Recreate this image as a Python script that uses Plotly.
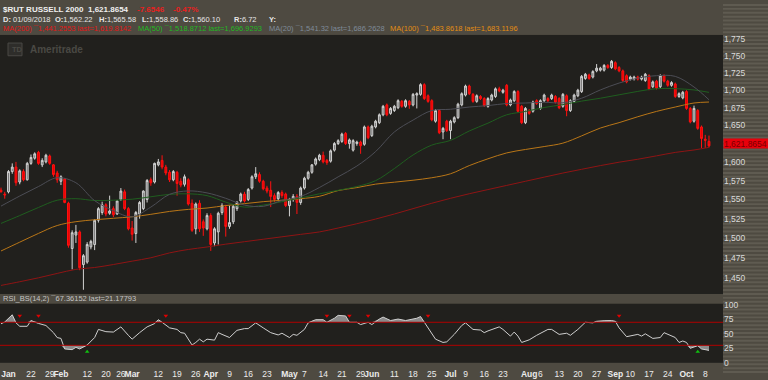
import pandas as pd
import plotly.graph_objects as go

# ---------------- data ----------------
holidays = ["2018-01-15", "2018-02-19", "2018-03-30", "2018-05-28", "2018-07-04", "2018-09-03"]
dates = [d.strftime("%Y-%m-%d") for d in pd.bdate_range("2018-01-09", "2018-10-09")
         if d.strftime("%Y-%m-%d") not in holidays]

opens = [1562.2, 1557, 1560, 1587, 1593, 1573, 1587, 1576, 1598, 1605,
         1613, 1596, 1600, 1608, 1596, 1585, 1574, 1577, 1545, 1487,
         1504, 1508, 1467, 1470, 1489, 1492, 1523, 1533, 1543, 1532,
         1538, 1531, 1550, 1560, 1538, 1513, 1506, 1531, 1538, 1550,
         1576, 1573, 1596, 1602, 1593, 1586, 1576, 1586, 1574, 1570,
         1576, 1545, 1512, 1545, 1521, 1512, 1529, 1494, 1508, 1533,
         1540, 1515, 1521, 1538, 1548, 1557, 1550, 1565, 1580, 1583,
         1574, 1565, 1562, 1555, 1551, 1559, 1557, 1542, 1550, 1554,
         1546, 1565, 1578, 1586, 1597, 1603, 1609, 1602, 1601, 1616,
         1625, 1628, 1639, 1625, 1616, 1625, 1627, 1624, 1648, 1636,
         1648, 1654, 1665, 1679, 1667, 1671, 1675, 1684, 1677, 1684,
         1679, 1693, 1694, 1708, 1692, 1685, 1656, 1671, 1641, 1656,
         1643, 1655, 1661, 1679, 1693, 1706, 1694, 1684, 1691, 1688,
         1677, 1686, 1691, 1702, 1697, 1707, 1679, 1685, 1698, 1677,
         1654, 1671, 1670, 1685, 1674, 1685, 1688, 1688, 1691, 1688,
         1677, 1692, 1671, 1684, 1692, 1698, 1717, 1722, 1719, 1728,
         1729, 1729, 1736, 1733, 1740, 1733, 1728, 1721, 1716, 1716,
         1719, 1716, 1714, 1721, 1705, 1713, 1705, 1721, 1713, 1707,
         1709, 1691, 1689, 1698, 1674, 1656, 1671, 1648, 1631, 1628]
highs = [1565.6, 1560, 1589, 1598, 1600, 1590, 1590, 1600, 1610, 1613,
         1615, 1605, 1611, 1610, 1597, 1588, 1582, 1578, 1547, 1510,
         1517, 1510, 1480, 1495, 1498, 1524, 1540, 1547, 1545, 1555,
         1541, 1549, 1565, 1563, 1540, 1522, 1535, 1548, 1562, 1577,
         1579, 1599, 1604, 1609, 1596, 1589, 1589, 1588, 1578, 1583,
         1578, 1550, 1546, 1549, 1524, 1532, 1532, 1514, 1534, 1545,
         1543, 1542, 1544, 1548, 1559, 1560, 1565, 1582, 1593, 1586,
         1576, 1568, 1574, 1558, 1561, 1562, 1559, 1552, 1557, 1557,
         1567, 1580, 1588, 1597, 1606, 1611, 1614, 1604, 1617, 1627,
         1631, 1640, 1641, 1632, 1631, 1629, 1629, 1650, 1650, 1651,
         1658, 1667, 1679, 1681, 1676, 1679, 1687, 1686, 1687, 1686,
         1696, 1697, 1710, 1710, 1694, 1687, 1673, 1673, 1648, 1658,
         1658, 1663, 1682, 1697, 1708, 1708, 1696, 1694, 1693, 1690,
         1690, 1695, 1704, 1705, 1702, 1709, 1688, 1700, 1700, 1679,
         1676, 1673, 1685, 1687, 1687, 1695, 1690, 1695, 1693, 1690,
         1696, 1694, 1687, 1695, 1702, 1722, 1725, 1724, 1729, 1738,
         1734, 1738, 1738, 1744, 1742, 1735, 1730, 1723, 1721, 1721,
         1721, 1721, 1725, 1723, 1714, 1715, 1723, 1723, 1715, 1713,
         1711, 1697, 1699, 1700, 1676, 1678, 1673, 1650, 1637, 1636]
lows = [1558.9, 1551, 1558, 1584, 1568, 1570, 1574, 1575, 1596, 1603,
        1596, 1593, 1598, 1596, 1580, 1572, 1569, 1545, 1488, 1461,
        1494, 1460, 1436, 1468, 1486, 1485, 1520, 1530, 1528, 1530,
        1527, 1530, 1548, 1536, 1510, 1497, 1494, 1525, 1536, 1546,
        1568, 1571, 1594, 1590, 1582, 1573, 1574, 1555, 1566, 1567,
        1542, 1508, 1505, 1508, 1503, 1510, 1484, 1490, 1492, 1530,
        1502, 1512, 1518, 1535, 1546, 1546, 1548, 1563, 1577, 1572,
        1562, 1558, 1540, 1547, 1549, 1552, 1540, 1528, 1547, 1531,
        1543, 1563, 1576, 1584, 1595, 1601, 1598, 1596, 1599, 1614,
        1623, 1626, 1623, 1618, 1614, 1622, 1611, 1622, 1631, 1634,
        1646, 1652, 1663, 1663, 1665, 1669, 1673, 1675, 1675, 1673.5,
        1677, 1674, 1692, 1686, 1682, 1656, 1654, 1638, 1631, 1641,
        1631, 1653, 1659, 1677, 1691, 1693, 1682, 1682, 1686, 1676,
        1675, 1684, 1689, 1697, 1695, 1677, 1677, 1683, 1668, 1652,
        1652, 1665, 1668, 1679, 1672, 1683, 1683, 1686, 1681, 1673,
        1675, 1663, 1669, 1682, 1690, 1696, 1715, 1715, 1717, 1726,
        1727, 1727, 1731, 1731, 1729, 1726, 1712, 1710, 1714, 1714,
        1714, 1714, 1712, 1700, 1703, 1701, 1703, 1711, 1705, 1705,
        1689, 1689, 1687, 1672, 1653, 1654, 1644, 1619, 1619, 1619.6]
closes = [1560.1, 1556, 1587, 1593, 1572, 1588, 1576, 1598, 1606, 1611,
          1598, 1602, 1609, 1598, 1583, 1576, 1580, 1546, 1491, 1507,
          1508, 1463, 1478, 1492, 1496, 1523, 1538, 1543, 1531, 1535,
          1530, 1548, 1561, 1538, 1512, 1505, 1533, 1546, 1561, 1575,
          1572, 1598, 1600, 1593, 1585, 1576, 1587, 1571, 1569, 1580,
          1544, 1510, 1544, 1512, 1513, 1529, 1492, 1512, 1532, 1542,
          1515, 1520, 1541, 1546, 1557, 1548, 1563, 1580, 1584, 1574,
          1564, 1561, 1554, 1550, 1559, 1555, 1542, 1550, 1554, 1546,
          1565, 1578, 1586, 1596, 1604, 1609, 1600, 1599, 1615, 1625,
          1629, 1638, 1625, 1630, 1629, 1627, 1622, 1648, 1633, 1649,
          1656, 1665, 1677, 1665, 1674, 1677, 1685, 1677, 1685, 1679,
          1694, 1695, 1708, 1688, 1684, 1658, 1671, 1640, 1646, 1643,
          1656, 1661, 1680, 1695, 1706, 1695, 1684, 1692, 1688, 1678,
          1688, 1693, 1702, 1699, 1700, 1679, 1686, 1698, 1670, 1654,
          1674, 1667, 1683, 1681, 1685, 1693, 1685, 1693, 1683, 1675,
          1694, 1671, 1685, 1693, 1700, 1720, 1723, 1717, 1727, 1732,
          1732, 1736, 1733, 1742, 1731, 1728, 1714, 1712, 1719, 1719,
          1716, 1719, 1723, 1702, 1712, 1703, 1721, 1713, 1707, 1711,
          1691, 1695, 1697, 1674, 1655, 1674, 1646, 1632, 1629.5, 1621.87]

# moving averages, read at every 5th session
ma_day = [0, 5, 10, 15, 20, 25, 30, 35, 40, 45, 50, 55, 60, 65, 70, 75, 80, 85, 90, 95,
          100, 105, 110, 115, 120, 125, 130, 135, 140, 145, 150, 155, 160, 165, 170, 175,
          180, 185, 189]
ma20 = [1541.3, 1554.5, 1567, 1578.7, 1572, 1548.4, 1535.4, 1527.4, 1540, 1556.7,
        1561.2, 1558.6, 1551.5, 1542.6, 1541, 1548.6, 1554, 1565.7, 1579.9, 1594.4,
        1614, 1641, 1657.6, 1671, 1672.8, 1676, 1678, 1681, 1681.7, 1682.7,
        1682, 1688.5, 1700.4, 1710.3, 1717.4, 1721, 1720, 1704.6, 1686.3]
ma50 = [1518.9, 1529, 1539.5, 1549, 1551, 1548.6, 1549, 1550.3, 1553.5, 1556.7,
        1557.4, 1555, 1546.5, 1540, 1542.6, 1547, 1552, 1557.4, 1562, 1567,
        1574.8, 1591, 1609.4, 1622.9, 1629.4, 1642.4, 1653.3, 1665, 1669.7, 1675.3,
        1679.4, 1684.4, 1688.5, 1693.4, 1698.3, 1702.2, 1702.2, 1700.4, 1696.9]
ma100 = [1483.9, 1495, 1506.1, 1516.2, 1521.1, 1523.6, 1525.5, 1527.4, 1530.6, 1534.4,
         1537, 1538.8, 1542, 1544.5, 1547.1, 1549, 1551, 1554.1, 1561.7, 1565.6,
         1570.2, 1572.8, 1575.4, 1578.7, 1584, 1595, 1604.2, 1612.2, 1616.9, 1620.9,
         1625.6, 1635.6, 1646.5, 1654, 1662.3, 1669.8, 1676, 1681.7, 1683.1]
ma200 = [1441.3, 1445.8, 1450.6, 1456, 1461, 1463.3, 1467, 1471.2, 1475.4, 1481.5,
         1485.8, 1488.9, 1492.5, 1495.6, 1498.7, 1501.8, 1504.9, 1508, 1513, 1518.5,
         1524.5, 1531, 1538, 1545, 1551.5, 1557.5, 1563, 1568.5, 1574, 1579.5,
         1585, 1590, 1595, 1599.6, 1603.6, 1608.2, 1612.9, 1616.2, 1619.8]

rsi_day = [0, 1, 3, 4, 5, 7, 8, 10, 12, 14, 15, 16, 17, 19, 20, 21, 23, 25, 26, 28,
           30, 32, 34, 35, 37, 39, 41, 42, 43, 45, 47, 48, 49, 51, 52, 53, 54, 55, 57, 58,
           59, 61, 63, 65, 66, 68, 70, 72, 74, 75, 77, 78, 79, 81, 82, 84, 86, 87, 89, 90,
           92, 93, 95, 96, 98, 99, 101, 102, 104, 106, 108, 110, 111, 112, 113, 115, 116, 118, 119, 121,
           123, 124, 126, 128, 129, 130, 132, 133, 134, 136, 137, 138, 139, 141, 143, 144, 146, 147, 149, 151,
           152, 154, 155, 156, 158, 159, 161, 163, 164, 165, 167, 169, 170, 171, 172, 174, 176, 177, 179, 180,
           181, 182, 183, 184, 186, 187, 189]
rsi_val = [67.4, 70.5, 83, 69, 63, 63, 73, 68, 64.4, 52, 43.4, 42, 23.7, 22.5, 26.5, 23.7, 30.5, 43.5, 57.6, 53.7,
           53, 62, 47.4, 40.7, 52, 62, 67.7, 74.5, 70, 60.3, 57.6, 52, 51, 30.5, 35, 40.7, 36, 40.7, 39, 52,
           49, 43.5, 56, 59, 59, 69, 60.3, 52, 48, 51, 43.5, 49, 47.4, 57.6, 69, 74.5, 74.5, 70, 77, 82,
           81, 70, 70, 66, 70, 66, 75.6, 79, 73, 75.6, 73, 75.6, 77, 80, 70, 49, 40.7, 35, 36, 49,
           64.4, 69, 57.6, 56.5, 52, 55, 60.3, 62, 57.6, 46, 53, 46, 35, 39.5, 47.4, 51, 57.6, 57.6, 49, 51,
           47.4, 57.6, 63, 70, 69, 71.7, 72.8, 73, 71.7, 60.3, 45, 47.4, 49, 46, 50, 42, 43.5, 52, 46, 43.5,
           35, 37.5, 35, 24.8, 29.4, 23.7, 21.2]
rsi_sell_day = [5, 10, 44, 87, 93, 98, 114, 165]
rsi_buy_day = [23, 186]

price_ticks = [1450, 1475, 1500, 1525, 1550, 1575, 1600, 1650, 1675, 1700, 1725, 1750, 1775]
rsi_ticks = [0, 25, 50, 75, 100]
tick_dates = ["2018-01-11", "2018-01-22", "2018-01-29", "2018-02-01", "2018-02-12", "2018-02-20",
              "2018-02-26", "2018-03-01", "2018-03-12", "2018-03-19", "2018-03-26", "2018-04-02",
              "2018-04-09", "2018-04-16", "2018-04-23", "2018-05-01", "2018-05-07", "2018-05-14",
              "2018-05-21", "2018-05-29", "2018-06-01", "2018-06-11", "2018-06-18", "2018-06-25",
              "2018-07-02", "2018-07-09", "2018-07-16", "2018-07-23", "2018-08-01", "2018-08-06",
              "2018-08-13", "2018-08-20", "2018-08-27", "2018-09-04", "2018-09-10", "2018-09-17",
              "2018-09-24", "2018-10-01", "2018-10-08"]
tick_labels = ["Jan", "22", "29", "Feb", "12", "20", "26", "Mar", "12", "19", "26", "Apr", "9", "16",
               "23", "May", "7", "14", "21", "29", "Jun", "11", "18", "25", "Jul", "9", "16", "23",
               "Aug", "6", "13", "20", "27", "Sep", "10", "17", "24", "Oct", "8"]

# ---------------- figure ----------------
W, H = 768, 380
PR = 723 / W  # right edge of plot panels


def py(p):
    return 1 - p / H


def px(p):
    return p / W


day_pos = {d: i for i, d in enumerate(dates)}
xs = list(range(len(dates)))

fig = go.Figure()

fig.add_trace(go.Scatter(x=ma_day, y=ma200, mode="lines", line=dict(color="#8f1414", width=1, shape="spline"),
                         hoverinfo="skip"))
fig.add_trace(go.Scatter(x=ma_day, y=ma100, mode="lines", line=dict(color="#b97617", width=1, shape="spline"),
                         hoverinfo="skip"))
fig.add_trace(go.Scatter(x=ma_day, y=ma50, mode="lines", line=dict(color="#1f5e1f", width=1, shape="spline"),
                         hoverinfo="skip"))
fig.add_trace(go.Scatter(x=ma_day, y=ma20, mode="lines", line=dict(color="#4c4d55", width=1, shape="spline"),
                         hoverinfo="skip"))

fig.add_trace(go.Candlestick(
    x=xs, open=opens, high=highs, low=lows, close=closes,
    increasing=dict(line=dict(color="#d2d2d2", width=1), fillcolor="#6b6b6b"),
    decreasing=dict(line=dict(color="#ff1010", width=1), fillcolor="#e60000"),
    whiskerwidth=0, hoverinfo="skip"))

# RSI panel
hi = [max(v, 70) for v in rsi_val]
lo = [min(v, 30) for v in rsi_val]
fig.add_trace(go.Scatter(x=rsi_day, y=[70] * len(rsi_day), xaxis="x2", yaxis="y2", mode="lines",
                         line=dict(width=0, color="rgba(0,0,0,0)"), hoverinfo="skip"))
fig.add_trace(go.Scatter(x=rsi_day, y=hi, xaxis="x2", yaxis="y2", mode="lines", fill="tonexty",
                         fillcolor="#8a8a8a", line=dict(width=0, color="rgba(0,0,0,0)"), hoverinfo="skip"))
fig.add_trace(go.Scatter(x=rsi_day, y=[30] * len(rsi_day), xaxis="x2", yaxis="y2", mode="lines",
                         line=dict(width=0, color="rgba(0,0,0,0)"), hoverinfo="skip"))
fig.add_trace(go.Scatter(x=rsi_day, y=lo, xaxis="x2", yaxis="y2", mode="lines", fill="tonexty",
                         fillcolor="#8a8a8a", line=dict(width=0, color="rgba(0,0,0,0)"), hoverinfo="skip"))
fig.add_trace(go.Scatter(x=rsi_day, y=rsi_val, xaxis="x2", yaxis="y2", mode="lines",
                         line=dict(color="#cfcfcf", width=1), hoverinfo="skip"))
fig.add_trace(go.Scatter(x=rsi_sell_day, y=[81.5] * len(rsi_sell_day), xaxis="x2", yaxis="y2", mode="markers",
                         marker=dict(symbol="triangle-down", size=4, color="#e00000"), hoverinfo="skip"))
fig.add_trace(go.Scatter(x=rsi_buy_day, y=[19] * len(rsi_buy_day), xaxis="x2", yaxis="y2", mode="markers",
                         marker=dict(symbol="triangle-up", size=4, color="#10c010"), hoverinfo="skip"))

shapes = []
# striped price-scale column
for k in range(0, H, 4):
    shapes.append(dict(type="rect", xref="paper", yref="paper", x0=PR, x1=1,
                       y0=py(k + 2), y1=py(k), fillcolor="#5f5b51", line=dict(width=0), layer="below"))
for lvl in (70, 30):
    shapes.append(dict(type="line", xref="x2 domain", yref="y2", x0=0, x1=1, y0=lvl, y1=lvl,
                       line=dict(color="#b00000", width=1)))
# TD logo box
shapes.append(dict(type="rect", xref="paper", yref="paper", x0=px(8), x1=px(22), y0=py(53), y1=py(40),
                   line=dict(color="#4a4945", width=1), fillcolor="#2e2d2a", layer="below"))

ann = []


def text(x, y, s, color, size=8, bold=False, family="Liberation Sans"):
    ann.append(dict(x=px(x), y=py(y), xref="paper", yref="paper", xanchor="left", yanchor="middle",
                    text=("<b>%s</b>" % s) if bold else s, showarrow=False,
                    font=dict(color=color, size=size, family=family)))


text(1, 6, "$RUT RUSSELL 2000", "#f0f0f0", 8, True)
text(86, 6, "1,621.8654", "#f0f0f0", 8, True)
text(135, 6, "-7.6546", "#e82020", 8, True)
text(171, 6, "-0.47%", "#e82020", 8, True)
text(1, 16, "<b>D:</b> 01/09/2018", "#e6e6e6", 7.5)
text(53, 16, "<b>O:</b>1,562.22", "#e6e6e6", 7.5)
text(97, 16, "<b>H:</b>1,565.58", "#e6e6e6", 7.5)
text(140, 16, "<b>L:</b>1,558.86", "#e6e6e6", 7.5)
text(181, 16, "<b>C:</b>1,560.10", "#e6e6e6", 7.5)
text(232, 16, "<b>R:</b>6.72", "#e6e6e6", 7.5)
text(267, 16, "<b>Y:</b>", "#e6e6e6", 7.5)
text(1, 25.5, "MA(200) \u00af1,441.2553 last=1,619.8142", "#e01818", 7.5)
text(136, 25.5, "MA(50) \u00af1,518.8712 last=1,696.9293", "#22b822", 7.5)
text(267, 25.5, "MA(20) \u00af1,541.32 last=1,686.2628", "#7f8b99", 7.5)
text(388, 25.5, "MA(100) \u00af1,483.8618 last=1,683.1196", "#e38d12", 7.5)
text(1, 302, "RSI_BS(14,2) \u00af67.36152 last=21.17793", "#c4c4c4", 7.5)
text(28, 46.5, "Ameritrade", "#4a4944", 10, True)
text(9.5, 46.5, "TD", "#4a4944", 7.5, True)

ann.append(dict(x=PR, y=py(142.8), xref="paper", yref="paper", xanchor="left", yanchor="middle",
                text="1,621.8654", showarrow=False, bgcolor="#e8000b", width=45, height=9, borderpad=0,
                align="left", font=dict(color="#7a0000", size=8.5, family="Liberation Sans")))

x_range = [-0.267, 192.74]
fig.update_layout(
    width=W, height=H, margin=dict(l=0, r=0, t=0, b=0),
    paper_bgcolor="#4e4a41", plot_bgcolor="#21201d",
    showlegend=False, hovermode=False,
    font=dict(family="Liberation Sans", color="#d8d8d8"),
    xaxis=dict(domain=[0, PR], range=x_range, anchor="y", showticklabels=False, showgrid=False,
               zeroline=False, showline=False, ticks="", rangeslider=dict(visible=False)),
    yaxis=dict(domain=[py(297), py(31.7)], type="log", range=[3.155618, 3.250742], side="right",
               anchor="x", tickvals=price_ticks, ticktext=["{:,}".format(v) for v in price_ticks],
               tickfont=dict(size=8.5, color="#dadada"), showgrid=False, zeroline=False, ticks=""),
    xaxis2=dict(domain=[0, PR], range=x_range, anchor="y2", matches="x", showgrid=False, zeroline=False,
                ticks="", tickangle=0, ticklabeloverflow="allow", ticklabelstandoff=5,
                tickvals=[day_pos[d] for d in tick_dates],
                ticktext=[("<b>%s</b>" % t) if t.isalpha() else t for t in tick_labels],
                tickfont=dict(size=8.5, color="#ececec")),
    yaxis2=dict(domain=[py(367.5), py(307)], range=[-0.34, 102.2], side="right", anchor="x2",
                tickvals=rsi_ticks, ticktext=[str(v) for v in rsi_ticks],
                tickfont=dict(size=8.5, color="#dadada"), showgrid=False, zeroline=False, ticks=""),
    shapes=shapes, annotations=ann,
)

fig.write_html("out.html", config={"displayModeBar": False},
               post_script="document.body.style.margin='0';document.body.style.overflow='hidden';")
